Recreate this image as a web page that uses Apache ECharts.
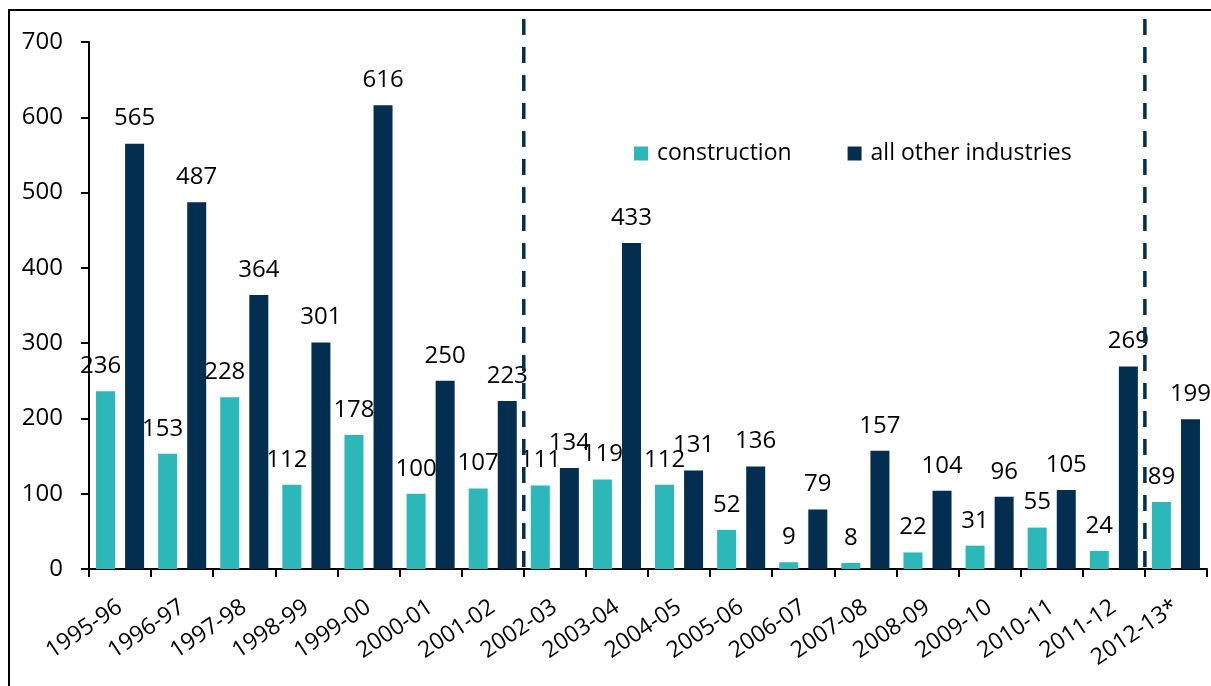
<!DOCTYPE html>
<html>
<head>
<meta charset="utf-8">
<script src="https://cdn.jsdelivr.net/npm/echarts@6/dist/echarts.min.js"></script>
<style>
html,body{margin:0;padding:0;background:#fff;}
#chart{width:1211px;height:686px;}
</style>
</head>
<body>
<div id="chart"></div>
<script>
const categories = ['1995-96','1996-97','1997-98','1998-99','1999-00','2000-01','2001-02','2002-03','2003-04','2004-05','2005-06','2006-07','2007-08','2008-09','2009-10','2010-11','2011-12','2012-13*'];
const construction = [236,153,228,112,178,100,107,111,119,112,52,9,8,22,31,55,24,89];
const otherIndustries = [565,487,364,301,616,250,223,134,433,131,136,79,157,104,96,105,269,199];
const yTicks = [0,100,200,300,400,500,600,700];
const dividerPositions = [7,17]; // category boundaries where dashed lines sit
const shiftedLabels = 4; // first construction labels sit slightly left of their bars

const FONT = 'Open Sans';
const TEAL = '#2cb8b8';
const NAVY = '#032e50';

const chart = echarts.init(document.getElementById('chart'), null, {renderer:'canvas'});

const labelBase = {show:true, position:'top', distance:13, color:'#000', fontFamily:FONT, fontSize:24};

const constructionData = construction.map((v, i) => i < shiftedLabels ? {value:v, label:{offset:[-5,0]}} : v);

const option = {
  animation:false,
  backgroundColor:'#fff',
  grid:{left:89, right:4, top:42, bottom:117, containLabel:false},
  legend:{
    left:634, top:142, padding:0, itemWidth:14, itemHeight:14, itemGap:56,
    icon:'rect',
    textStyle:{fontFamily:FONT, fontSize:23, color:'#000', padding:[0,0,0,4]},
    data:['construction','all other industries']
  },
  xAxis:[{
    type:'category', data:categories,
    axisLine:{lineStyle:{color:'#000', width:2}},
    axisTick:{show:true, length:8, lineStyle:{color:'#000', width:2}},
    axisLabel:{rotate:34, interval:0, margin:36, color:'#000', fontFamily:FONT, fontSize:23}
  },{
    type:'value', min:0, max:categories.length, show:false
  }],
  yAxis:{
    type:'value', min:yTicks[0], max:yTicks[yTicks.length-1], interval:100,
    splitLine:{show:false},
    axisLine:{show:true, lineStyle:{color:'#000', width:2}},
    axisTick:{show:true, inside:false, length:8, lineStyle:{color:'#000', width:2}},
    axisLabel:{margin:26, color:'#000', fontFamily:FONT, fontSize:24}
  },
  series:[{
    name:'construction', type:'bar', data:constructionData, barWidth:19, barGap:'53%',
    itemStyle:{color:TEAL},
    label:labelBase
  },{
    name:'all other industries', type:'bar', data:otherIndustries, barWidth:19,
    itemStyle:{color:NAVY},
    label:labelBase
  }]
};
chart.setOption(option);

// dashed dividers placed through the hidden value x axis
const yTop = 19;
const yBottom = chart.convertToPixel({yAxisIndex:0}, 0);
const graphics = dividerPositions.map(p => {
  const x = chart.convertToPixel({xAxisIndex:1}, p);
  return {type:'line', silent:true, z:10,
    shape:{x1:x, y1:yTop, x2:x, y2:yBottom},
    style:{stroke:NAVY, lineWidth:3.5, lineDash:[16,12]}};
});
graphics.push({type:'rect', silent:true, z:20,
  shape:{x:9, y:10, width:1300, height:800},
  style:{fill:'none', stroke:'#000', lineWidth:2}});
chart.setOption({graphic:graphics});
</script>
</body>
</html>
